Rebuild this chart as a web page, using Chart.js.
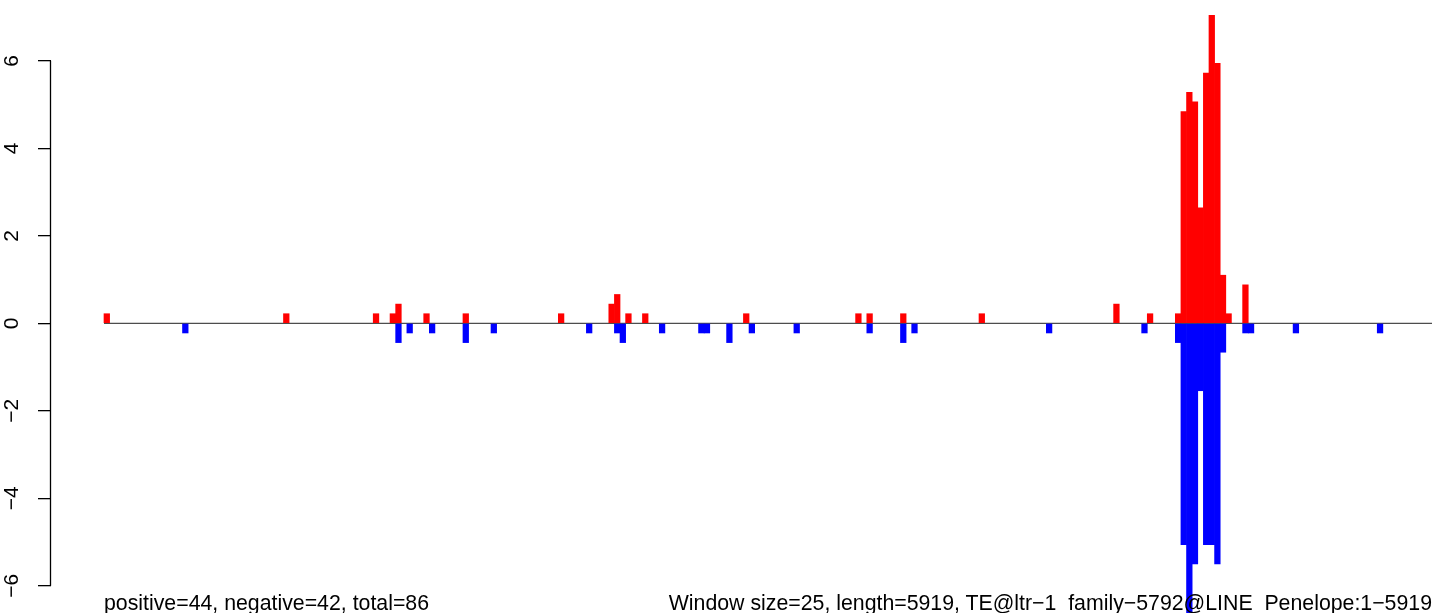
<!DOCTYPE html>
<html>
<head>
<meta charset="utf-8">
<title>TE@ltr-1 window plot</title>
<script src="https://cdn.jsdelivr.net/npm/chart.js@4.4.1/dist/chart.umd.min.js"></script>
<style>
    html, body { margin: 0; padding: 0; background: #fff; }
    #wrap { position: relative; width: 1444px; height: 613px; overflow: hidden; }
    .note {
        position: absolute; top: 593px; line-height: 21px; white-space: pre;
        font-family: "Liberation Sans", Arial, Helvetica, sans-serif; font-size: 21.3px; color: #000;
    }
</style>
</head>
<body>
<div id="wrap">
    <canvas id="chart-windows"></canvas>
    <div class="note" id="note-left" style="left:104px">positive=44, negative=42, total=86</div>
    <div class="note" id="note-right" style="right:12px">Window size=25, length=5919, TE@ltr−1  family−5792@LINE  Penelope:1−5919</div>
</div>
<script>
// window size + sequence length (bp)
const windowSize = 25;
const seqLength = 5919;

// plus strand windows (index of window) and their scores
const plusWindows = [0, 32, 48, 51, 52, 57, 64, 81, 90, 91, 93, 96, 114, 134, 136, 142, 156, 180, 186,
    191, 192, 193, 194, 195, 196, 197, 198, 199, 200, 203];
const plusScores = [0.22, 0.22, 0.22, 0.22, 0.44, 0.22, 0.22, 0.22, 0.44, 0.66, 0.22, 0.22, 0.22, 0.22, 0.22, 0.22, 0.22, 0.44, 0.22,
    0.22, 4.84, 5.28, 5.06, 2.64, 5.72, 7.04, 5.94, 1.10, 0.22, 0.88];

// minus strand windows, scores drawn below zero
const minusWindows = [14, 52, 54, 58, 64, 69, 86, 91, 92, 99, 106, 107, 111, 115, 123, 136, 142, 144, 168, 185,
    191, 192, 193, 194, 195, 196, 197, 198, 199, 203, 204, 212, 227];
const minusScores = [-0.22, -0.44, -0.22, -0.22, -0.44, -0.22, -0.22, -0.22, -0.44, -0.22, -0.22, -0.22, -0.44, -0.22, -0.22, -0.22, -0.44, -0.22, -0.22, -0.22,
    -0.44, -5.06, -6.82, -5.50, -1.54, -5.06, -5.06, -5.50, -0.66, -0.22, -0.22, -0.22, -0.22];

// y axis tick labels
const yTicks = [-6, -4, -2, 0, 2, 4, 6];

const toPoints = (wins, vals) => wins.map((w, i) => ({ x: w * windowSize + windowSize / 2, y: vals[i] }));

// axis line like R: only from first to last tick
const axisLinePlugin = {
    id: 'axisLine',
    afterDraw(chart) {
        const y = chart.scales.y;
        const ctx = chart.ctx;
        const x = Math.round(y.right) - 0.5;
        ctx.save();
        ctx.strokeStyle = '#000';
        ctx.lineWidth = 1.3;
        ctx.beginPath();
        ctx.moveTo(x, y.getPixelForValue(yTicks[0]));
        ctx.lineTo(x, y.getPixelForValue(yTicks[yTicks.length - 1]));
        ctx.stroke();
        ctx.restore();
    }
};

function renderChart() {
    const ctx = document.getElementById('chart-windows');

    new Chart(ctx, {
        type: 'bar',
        data: {
            datasets: [
                {
                    label: 'plus',
                    data: toPoints(plusWindows, plusScores),
                    backgroundColor: '#FF0000',
                    borderWidth: 0,
                    grouped: false,
                    barPercentage: 1,
                    categoryPercentage: 1
                },
                {
                    label: 'minus',
                    data: toPoints(minusWindows, minusScores),
                    backgroundColor: '#0000FF',
                    borderWidth: 0,
                    grouped: false,
                    barPercentage: 1,
                    categoryPercentage: 1
                },
                {
                    // baseline at zero across the whole sequence
                    type: 'line',
                    label: 'zero',
                    data: [{ x: 0, y: 0 }, { x: seqLength, y: 0 }],
                    borderColor: '#4d4d4d',
                    borderWidth: 1.2,
                    pointRadius: 0
                }
            ]
        },
        options: {
            responsive: true,
            maintainAspectRatio: false,
            animation: false,
            layout: { padding: 0 },
            plugins: {
                legend: { display: false },
                tooltip: { enabled: false }
            },
            scales: {
                x: {
                    type: 'linear',
                    display: false,
                    offset: false, // bar default adds extra room, not wanted here
                    min: -236.2,
                    max: 5972.5
                },
                y: {
                    min: -6.62,
                    max: 7.39,
                    afterFit: (scale) => {
                        scale.width = 51;
                        // rotated labels should not shrink the plot area
                        scale.paddingTop = 0;
                        scale.paddingBottom = 0;
                    },
                    afterBuildTicks: (scale) => { scale.ticks = yTicks.map(v => ({ value: v })); },
                    border: { display: false },
                    grid: { drawOnChartArea: false, tickLength: 13, color: '#000', tickColor: '#000', lineWidth: 1.3 },
                    ticks: {
                        minRotation: 90,
                        maxRotation: 90,
                        crossAlign: 'center',
                        padding: 13.5,
                        color: '#000',
                        font: { family: '"Liberation Sans", Arial, Helvetica, sans-serif', size: 21 },
                        callback: (v) => v < 0 ? '\u2212' + (-v) : String(v)
                    }
                }
            }
        },
        plugins: [axisLinePlugin]
    });
}

document.addEventListener('DOMContentLoaded', renderChart);
</script>
</body>
</html>
